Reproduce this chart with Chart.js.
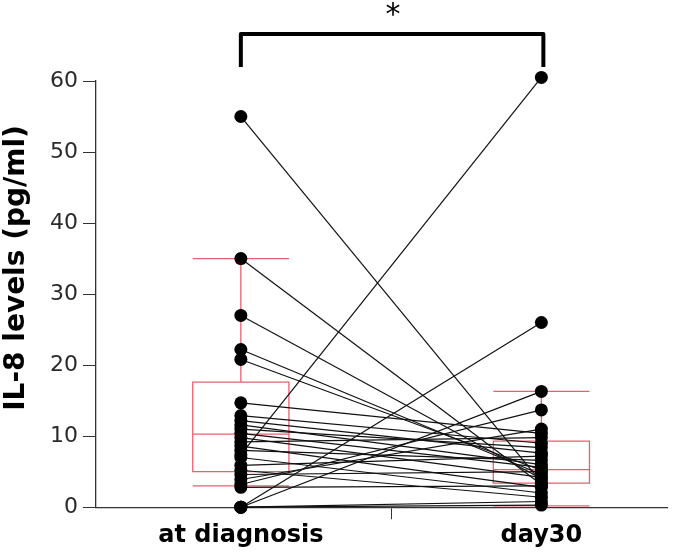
<!DOCTYPE html>
<html>
<head>
<meta charset="utf-8">
<script src="https://cdn.jsdelivr.net/npm/chart.js@4.4.1/dist/chart.umd.min.js"></script>
<style>
  html, body { margin: 0; padding: 0; background: #fff; }
  #wrap { width: 685px; height: 552px; }
</style>
</head>
<body>
<div id="wrap"><canvas id="il8Chart"></canvas></div>
<script>
const groups = ["at diagnosis", "day30"];
const yTicks = [0, 10, 20, 30, 40, 50, 60];
// paired values per patient (pg/ml)
const atDiagnosis = [55, 35, 27, 22.2, 20.8, 14.7, 12.9, 12.2, 11.6, 11.0, 10.4, 9.8, 9.2, 8.6, 8.0, 7.4, 7.0, 5.9, 5.2, 4.6, 3.9, 3.2, 2.8, 0, 0, 0, 0];
const day30 = [3.5, 3.2, 4.0, 4.6, 5.2, 10.4, 9.0, 7.6, 6.0, 8.4, 5.6, 4.2, 9.8, 2.8, 6.6, 60.5, 2.0, 7.2, 1.4, 5.0, 11.0, 13.7, 3.0, 26, 16.3, 0.3, 0.8];
// box stats: [low whisker, q1, median, q3, high whisker]
const boxDiagnosis = [3.0, 5.0, 10.3, 17.6, 35.0];
const boxDay30 = [0.2, 3.4, 5.3, 9.3, 16.3];

const FONT = "'DejaVu Sans', Verdana, sans-serif";

const datasets = atDiagnosis.map((v, i) => ({
    type: 'line',
    data: [{ x: 0, y: v }, { x: 1, y: day30[i] }],
    borderColor: '#111',
    borderWidth: 1.2,
    pointRadius: 6.5,
    pointBackgroundColor: '#000',
    pointBorderWidth: 0,
    clip: false
}));

const boxPlugin = {
    id: 'boxes',
    beforeDatasetsDraw(chart) {
        const { ctx, scales: { x, y } } = chart;
        const half = 0.16;
        [boxDiagnosis, boxDay30].forEach((b, i) => {
            const xl = x.getPixelForValue(i - half);
            const xr = x.getPixelForValue(i + half);
            const xc = x.getPixelForValue(i);
            const py = b.map(v => y.getPixelForValue(v));
            ctx.save();
            ctx.strokeStyle = '#e8606f';
            ctx.lineWidth = 1.3;
            ctx.beginPath();
            ctx.rect(xl, py[3], xr - xl, py[1] - py[3]);
            ctx.moveTo(xl, py[2]); ctx.lineTo(xr, py[2]);
            ctx.moveTo(xc, py[3]); ctx.lineTo(xc, py[4]);
            ctx.moveTo(xc, py[1]); ctx.lineTo(xc, py[0]);
            ctx.moveTo(xl, py[4]); ctx.lineTo(xr, py[4]);
            ctx.moveTo(xl, py[0]); ctx.lineTo(xr, py[0]);
            ctx.stroke();
            ctx.restore();
        });
    },
    afterDraw(chart) {
        const { ctx, scales: { x } } = chart;
        const x0 = x.getPixelForValue(0);
        const x1 = x.getPixelForValue(1);
        ctx.save();
        // significance bracket
        ctx.strokeStyle = '#000';
        ctx.lineWidth = 4;
        ctx.lineJoin = 'round';
        ctx.beginPath();
        ctx.moveTo(x0, 67); ctx.lineTo(x0, 34); ctx.lineTo(x1 + 2, 34); ctx.lineTo(x1 + 2, 67);
        ctx.stroke();
        ctx.fillStyle = '#000';
        ctx.font = '30px ' + FONT;
        ctx.textAlign = 'center';
        ctx.textBaseline = 'top';
        ctx.fillText('*', (x0 + x1) / 2 + 2, 1);
        // y axis title
        ctx.translate(24, 268);
        ctx.rotate(-Math.PI / 2);
        ctx.font = 'bold 28px ' + FONT;
        ctx.textBaseline = 'alphabetic';
        ctx.fillText('IL-8 levels (pg/ml)', 0, 0);
        ctx.restore();
    }
};

new Chart(document.getElementById('il8Chart'), {
    type: 'line',
    data: { datasets },
    plugins: [boxPlugin],
    options: {
        responsive: true,
        maintainAspectRatio: false,
        animation: false,
        layout: { padding: { top: 81, left: 45, right: 18, bottom: 0 } },
        plugins: { legend: { display: false }, tooltip: { enabled: false } },
        scales: {
            x: {
                type: 'linear',
                min: -0.482,
                max: 1.418,
                afterBuildTicks: axis => { axis.ticks = [0, 0.5, 1].map(v => ({ value: v })); },
                border: { color: '#333', width: 1.3 },
                grid: {
                    drawOnChartArea: false,
                    tickLength: 12,
                    tickColor: c => (c.tick && c.tick.value === 0.5) ? '#333' : 'rgba(0,0,0,0)'
                },
                ticks: {
                    color: '#000',
                    padding: 2,
                    maxRotation: 0,
                    font: { family: FONT, size: 24, weight: 'bold' },
                    callback: v => v === 0 ? groups[0] : (v === 1 ? groups[1] : '')
                }
            },
            y: {
                min: 0,
                max: 60,
                afterBuildTicks: axis => { axis.ticks = yTicks.map(v => ({ value: v })); },
                border: { color: '#333', width: 1.3 },
                grid: { drawOnChartArea: false, tickLength: 13, tickColor: '#333' },
                ticks: {
                    color: '#2a2a2a',
                    padding: 5,
                    font: { family: FONT, size: 22 }
                }
            }
        }
    }
});
</script>
</body>
</html>
